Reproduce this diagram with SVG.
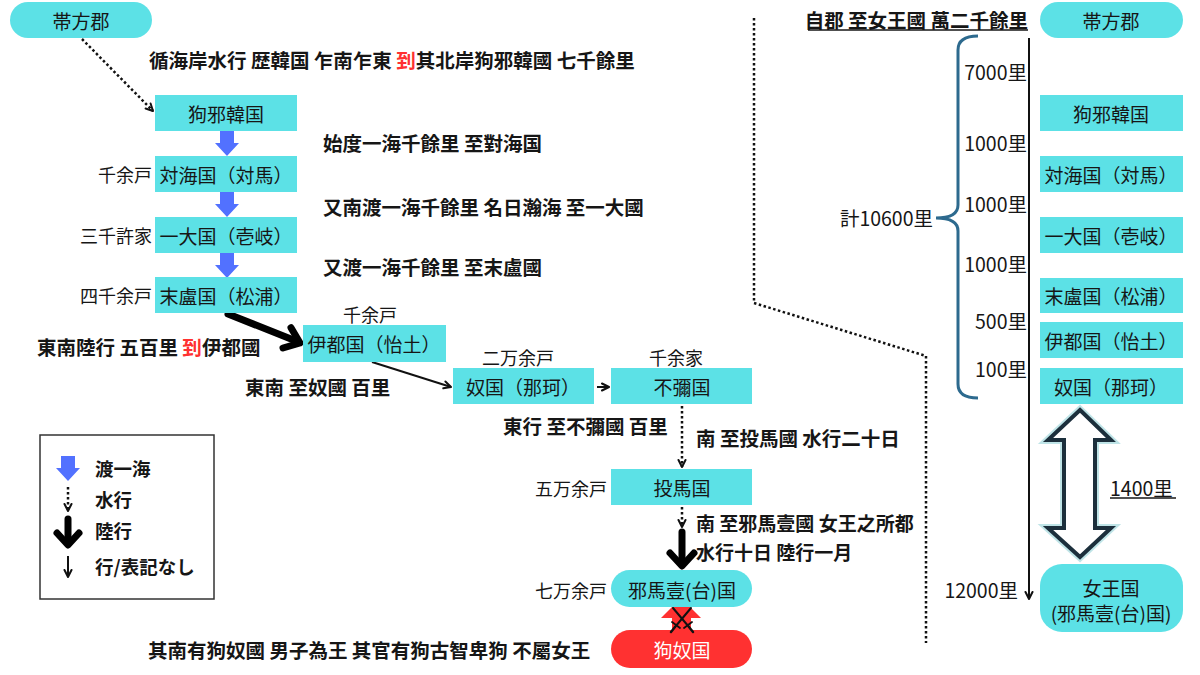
<svg xmlns="http://www.w3.org/2000/svg" width="1200" height="675" viewBox="0 0 1200 675">
<style>
text{font-family:"Noto Sans CJK JP","Noto Sans",sans-serif;fill:#161616;dominant-baseline:central}
.n{font-size:19px;text-anchor:middle}
.lbl{font-size:18px}
.num{font-size:19.5px}
.b{font-size:19.5px;font-weight:bold}
.b2{font-size:19px;font-weight:bold}
.lg{font-size:18.5px;font-weight:bold}
.r{text-anchor:end}
.m{text-anchor:middle}
.box{fill:#5CE1E6}
.red{fill:#FF3131}
.thin{stroke:#111;stroke-width:2;fill:none}
.dot{stroke:#111;stroke-width:2.5;fill:none;stroke-dasharray:2.5 2.5}
.thick{stroke:#000;stroke-width:7;fill:none;stroke-linejoin:round;stroke-linecap:round}
.blue{fill:#5271FF}
</style>
<defs>
<marker id="ah" viewBox="0 0 10 10" refX="9" refY="5" markerWidth="10" markerHeight="10" markerUnits="userSpaceOnUse" orient="auto">
<path d="M2,1.5 L9,5 L2,8.5" fill="none" stroke="#111" stroke-width="2" stroke-linecap="round" stroke-linejoin="round"/>
</marker>
<path id="blueArrow" d="M-7,0 H7 V12 H12 L0,25 L-12,12 H-7 Z"/>
</defs>
<rect width="1200" height="675" fill="#fff"/>

<g id="connectors">
<polyline class="dot" points="754,18 754,303 926,356 926,643"/>
<line class="dot" x1="82" y1="39" x2="153" y2="111" marker-end="url(#ah)"/>
<use href="#blueArrow" class="blue" x="227" y="131"/>
<use href="#blueArrow" class="blue" x="227" y="192"/>
<use href="#blueArrow" class="blue" x="227" y="253"/>
<line class="thick" x1="228" y1="314" x2="296" y2="341"/>
<path class="thick" d="M291,327.7 L300,343 L283,348"/>
<line class="thin" x1="372" y1="362" x2="451" y2="387" marker-end="url(#ah)"/>
<line class="thin" x1="597" y1="387" x2="609" y2="387" marker-end="url(#ah)"/>
<line class="dot" x1="682" y1="406" x2="682" y2="467" marker-end="url(#ah)"/>
<line class="dot" x1="682" y1="507" x2="682" y2="527" marker-end="url(#ah)"/>
<line class="thick" x1="682" y1="532" x2="682" y2="564"/>
<path class="thick" d="M670,553 L682,566 L694,553"/>
<polygon class="red" points="681,598 661,618 672,618 672,632 691,632 691,618 701,618"/>
<line class="thin" x1="1029" y1="38" x2="1029" y2="599" marker-end="url(#ah)"/>
<path d="M978,36 Q958,36 958,50 L958,205 Q958,218 936,218 Q958,218 958,231 L958,384 Q958,398 978,398" fill="none" stroke="#2d6a8e" stroke-width="3"/>
<polygon points="1080,410 1111,440 1095,440 1095,528 1111,528 1080,557 1048,528 1064,528 1064,440 1048,440" fill="none" stroke="#7fc9d0" stroke-opacity="0.5" stroke-width="8"/>
<polygon points="1080,410 1111,440 1095,440 1095,528 1111,528 1080,557 1048,528 1064,528 1064,440 1048,440" fill="#fff" stroke="#1c2f3c" stroke-width="4"/>
</g>

<g id="n-taihou-left">
<rect class="box" x="10" y="2" width="142" height="36" rx="18"/>
<text class="n" x="81" y="20">帯方郡</text>
</g>
<g id="n-kuyakan">
<rect class="box" x="155" y="95" width="142" height="36"/>
<text class="n" x="226" y="113">狗邪韓国</text>
</g>
<g id="n-tsushima">
<rect class="box" x="155" y="156" width="142" height="36"/>
<text class="n" x="226" y="174">対海国（対馬）</text>
<text class="lbl r" x="152" y="174">千余戸</text>
</g>
<g id="n-iki">
<rect class="box" x="155" y="217" width="142" height="36"/>
<text class="n" x="226" y="235">一大国（壱岐）</text>
<text class="lbl r" x="152" y="235">三千許家</text>
</g>
<g id="n-matsura">
<rect class="box" x="155" y="277" width="142" height="36"/>
<text class="n" x="226" y="295">末盧国（松浦）</text>
<text class="lbl r" x="152" y="295">四千余戸</text>
</g>
<g id="n-ito">
<rect class="box" x="303" y="325" width="143" height="37"/>
<text class="n" x="374" y="343">伊都国（怡土）</text>
<text class="lbl m" x="370" y="314">千余戸</text>
</g>
<g id="n-na">
<rect class="box" x="453" y="368" width="141" height="36"/>
<text class="n" x="523" y="386">奴国（那珂）</text>
<text class="lbl m" x="518" y="357">二万余戸</text>
</g>
<g id="n-fumi">
<rect class="box" x="611" y="368" width="141" height="36"/>
<text class="n" x="682" y="386">不彌国</text>
<text class="lbl m" x="676" y="357">千余家</text>
</g>
<g id="n-toma">
<rect class="box" x="611" y="469" width="141" height="36"/>
<text class="n" x="682" y="487">投馬国</text>
<text class="lbl r" x="607" y="488">五万余戸</text>
</g>
<g id="n-yamatai">
<rect class="box" x="611" y="570" width="141" height="37" rx="18.5"/>
<text class="n" x="682" y="589">邪馬壹(台)国</text>
<text class="lbl r" x="607" y="590">七万余戸</text>
</g>
<g id="n-kunu">
<rect class="red" x="611" y="630" width="141" height="38" rx="19"/>
<text class="n" x="682" y="649" style="fill:#fff">狗奴国</text>
</g>
<g id="swords" stroke="#111" stroke-linecap="round" fill="none">
<line x1="673" y1="608" x2="689" y2="627" stroke-width="2"/>
<line x1="691" y1="608" x2="675" y2="627" stroke-width="2"/>
<line x1="684" y1="628" x2="692" y2="622" stroke-width="1.8"/>
<line x1="672" y1="622" x2="680" y2="628" stroke-width="1.8"/>
<line x1="689" y1="627" x2="693" y2="632" stroke-width="2.5"/>
<line x1="675" y1="627" x2="671" y2="632" stroke-width="2.5"/>
</g>

<g id="labels-left">
<text class="b" x="149" y="59">循海岸水行 歴韓国 乍南乍東 <tspan fill="#FF3131">到</tspan>其北岸狗邪韓國 七千餘里</text>
<text class="b" x="323" y="142">始度一海千餘里 至對海国</text>
<text class="b" x="323" y="206">又南渡一海千餘里 名日瀚海 至一大國</text>
<text class="b" x="323" y="266">又渡一海千餘里 至末盧國</text>
<text class="b" x="37" y="346">東南陸行 五百里 <tspan fill="#FF3131">到</tspan>伊都國</text>
<text class="b" x="245" y="386">東南 至奴國 百里</text>
<text class="b" x="503" y="425">東行 至不彌國 百里</text>
<text class="b" x="696" y="437">南 至投馬國 水行二十日</text>
<text class="b2" x="696" y="522">南 至邪馬壹國 女王之所都</text>
<text class="b2" x="696" y="551">水行十日 陸行一月</text>
<text class="b" x="148" y="649">其南有狗奴國 男子為王 其官有狗古智卑狗 不屬女王</text>
</g>

<g id="legend">
<rect x="40" y="435" width="174" height="164" fill="#fff" stroke="#333" stroke-width="1.5"/>
<use href="#blueArrow" class="blue" x="68" y="456"/>
<line class="dot" x1="68" y1="487" x2="68" y2="511" marker-end="url(#ah)"/>
<line class="thick" x1="68" y1="519" x2="68" y2="543"/>
<path class="thick" d="M57,533 L68,545 L79,533"/>
<line class="thin" x1="68" y1="556" x2="68" y2="577" marker-end="url(#ah)"/>
<text class="lg" x="95" y="468">渡一海</text>
<text class="lg" x="95" y="499">水行</text>
<text class="lg" x="95" y="530">陸行</text>
<text class="lg" x="95" y="566">行/表記なし</text>
</g>

<g id="right-scale">
<text class="b r" x="1028" y="19">自郡 至女王國 萬二千餘里</text>
<line x1="808" y1="30" x2="1028" y2="30" stroke="#161616" stroke-width="1.5"/>
<text class="num r" x="1027" y="71">7000里</text>
<text class="num r" x="1027" y="142">1000里</text>
<text class="num r" x="1027" y="203">1000里</text>
<text class="num r" x="1027" y="263">1000里</text>
<text class="num r" x="1027" y="320">500里</text>
<text class="num r" x="1027" y="368">100里</text>
<text class="num r" x="933" y="217">計10600里</text>
<text class="num r" x="1018" y="589">12000里</text>
<text class="num" x="1110" y="487">1400里</text>
<line x1="1110" y1="498" x2="1176" y2="498" stroke="#161616" stroke-width="1.5"/>
</g>

<g id="r-taihou">
<rect class="box" x="1040" y="2" width="143" height="36" rx="18"/>
<text class="n" x="1111" y="20">帯方郡</text>
</g>
<g id="r-kuyakan">
<rect class="box" x="1040" y="95" width="143" height="36"/>
<text class="n" x="1111" y="113">狗邪韓国</text>
</g>
<g id="r-tsushima">
<rect class="box" x="1040" y="156" width="143" height="36"/>
<text class="n" x="1111" y="174">対海国（対馬）</text>
</g>
<g id="r-iki">
<rect class="box" x="1040" y="217" width="143" height="36"/>
<text class="n" x="1111" y="235">一大国（壱岐）</text>
</g>
<g id="r-matsura">
<rect class="box" x="1040" y="278" width="143" height="35"/>
<text class="n" x="1111" y="295">末盧国（松浦）</text>
</g>
<g id="r-ito">
<rect class="box" x="1040" y="322" width="143" height="36"/>
<text class="n" x="1111" y="340">伊都国（怡土）</text>
</g>
<g id="r-na">
<rect class="box" x="1040" y="368" width="143" height="36"/>
<text class="n" x="1111" y="386">奴国（那珂）</text>
</g>
<g id="r-joou">
<rect class="box" x="1040" y="564" width="143" height="68" rx="22"/>
<text class="n" x="1111" y="587">女王国</text>
<text class="n" x="1111" y="612">(邪馬壹(台)国)</text>
</g>
</svg>
